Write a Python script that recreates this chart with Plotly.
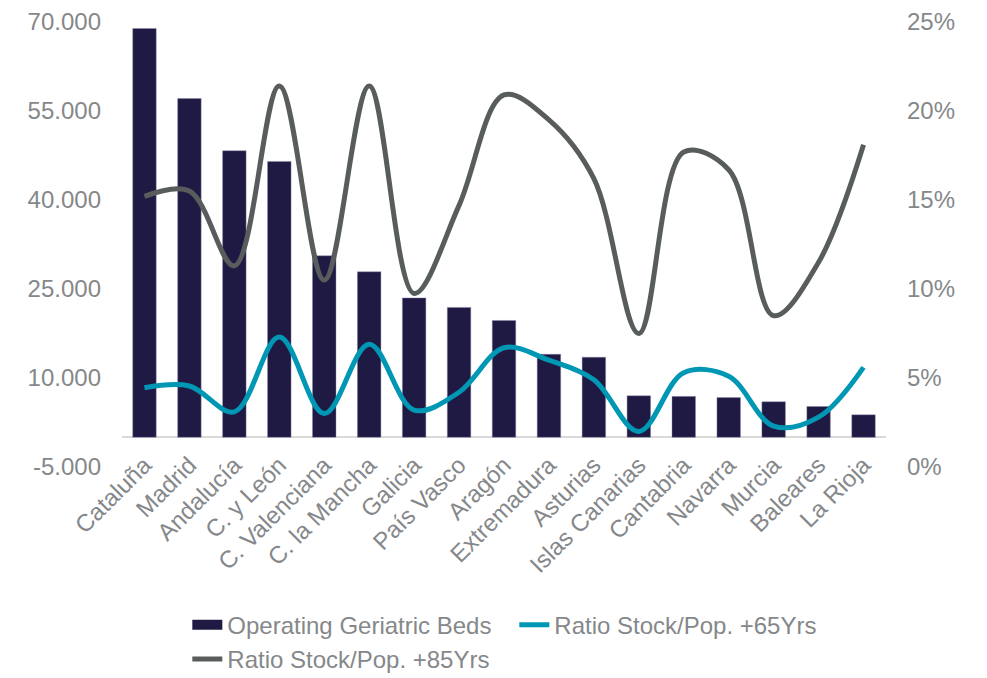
import plotly.graph_objects as go

# Regions (Spanish autonomous communities)
categories = ["Cataluña", "Madrid", "Andalucía", "C. y León", "C. Valenciana",
              "C. la Mancha", "Galicia", "País Vasco", "Aragón", "Extremadura",
              "Asturias", "Islas Canarias", "Cantabria", "Navarra", "Murcia",
              "Baleares", "La Rioja"]

# Operating geriatric beds (left axis)
beds = [68900, 57100, 48300, 46500, 30600, 27900, 23500, 21900, 19700,
        14000, 13500, 7000, 6900, 6700, 6000, 5200, 3800]

# Bed stock / population ratios in % (right axis)
ratio_65 = [4.45, 4.55, 3.1, 7.3, 3.0, 6.9, 3.2, 4.2, 6.7, 6.0, 4.9, 2.0,
            5.3, 5.1, 2.3, 2.8, 5.6]
ratio_85 = [15.2, 15.5, 11.3, 21.4, 10.5, 21.4, 9.75, 14.7, 20.9, 19.5, 16.2,
            7.5, 17.7, 16.7, 8.5, 11.5, 18.1]

left_ticks = [-5000, 10000, 25000, 40000, 55000, 70000]
left_labels = ["-5.000", "10.000", "25.000", "40.000", "55.000", "70.000"]
right_ticks = [0, 5, 10, 15, 20, 25]
right_labels = ["0%", "5%", "10%", "15%", "20%", "25%"]

NAVY = "#1f1a43"
TEAL = "#0097b4"
GREY = "#585c5c"
TEXT = "#85888a"
FONT = "Liberation Sans, Arial, sans-serif"

fig = go.Figure()

fig.add_trace(go.Bar(
    x=categories, y=beds, name="Operating Geriatric Beds",
    marker=dict(color=NAVY, line=dict(color="rgba(140,135,170,0.55)", width=0.8)),
    showlegend=False, legendgroup="beds",
))
# legend entry for the bars, drawn as a wide block
fig.add_trace(go.Scatter(
    x=[None], y=[None], mode="lines", name="Operating Geriatric Beds",
    line=dict(color=NAVY, width=12), legendgroup="beds",
))
fig.add_trace(go.Scatter(
    x=categories, y=ratio_65, name="Ratio Stock/Pop. +65Yrs", yaxis="y2",
    mode="lines", line=dict(color=TEAL, width=5, shape="spline", smoothing=1.0),
))
fig.add_trace(go.Scatter(
    x=categories, y=ratio_85, name="Ratio Stock/Pop. +85Yrs", yaxis="y2",
    mode="lines", line=dict(color=GREY, width=5, shape="spline", smoothing=1.0),
))

fig.update_layout(
    width=987, height=678,
    margin=dict(l=122, r=101, t=22, b=211, autoexpand=False),
    paper_bgcolor="white", plot_bgcolor="white",
    font=dict(family=FONT, size=24, color=TEXT),
    bargap=0.477,
    showlegend=True,
    legend=dict(
        orientation="h", x=0.0855, xanchor="left", y=-0.305, yanchor="top",
        font=dict(size=24, color=TEXT), entrywidth=282, entrywidthmode="pixels",
        bgcolor="rgba(0,0,0,0)", traceorder="normal",
    ),
    xaxis=dict(
        anchor="free", position=5000 / 75000,
        showgrid=False, showline=False, zeroline=False, ticks="",
        tickangle=-45, tickfont=dict(size=24, color=TEXT),
        ticklabelstandoff=8,
    ),
    yaxis=dict(
        range=[-5000, 70000], tickvals=left_ticks, ticktext=left_labels,
        showgrid=False, showline=False, zeroline=True,
        zerolinecolor="#d9d9d9", zerolinewidth=2,
        ticks="", ticklabelstandoff=20,
        tickfont=dict(size=24, color=TEXT),
    ),
    yaxis2=dict(
        range=[0, 25], tickvals=right_ticks, ticktext=right_labels,
        overlaying="y", side="right", showgrid=False, showline=False,
        zeroline=False, ticks="", ticklabelstandoff=20,
        tickfont=dict(size=24, color=TEXT),
    ),
)

fig.write_html("out.html")
